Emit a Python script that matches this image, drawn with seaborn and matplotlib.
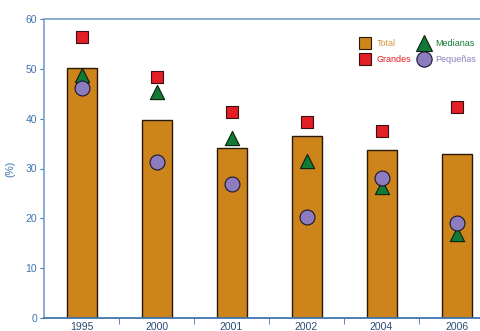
import numpy as np
import pandas as pd
import matplotlib
matplotlib.use('Agg')
import matplotlib.pyplot as plt
from matplotlib.lines import Line2D
import seaborn as sns

# data
years = ['1995', '2000', '2001', '2002', '2004', '2006']
total = [50.2, 39.8, 34.1, 36.5, 33.7, 32.9]
grandes = [56.4, 48.4, 41.4, 39.4, 37.6, 42.4]
medianas = [48.8, 45.3, 36.2, 31.5, 26.3, 16.8]
pequenas = [46.2, 31.3, 26.9, 20.3, 28.1, 19.1]

orange = '#CD841A'
red = '#E31E24'
green = '#137A35'
purple = '#8D7DBE'
blue = '#3F74AE'
light_blue = '#7FA6D0'

sns.set_style('white')
plt.rcParams['font.family'] = ['Liberation Sans', 'DejaVu Sans']

df = pd.DataFrame({'year': years, 'Total': total, 'Grandes': grandes,
                   'Medianas': medianas, 'Pequeñas': pequenas})

fig = plt.figure(figsize=(4.81, 3.31), dpi=100)
ax = fig.add_axes([44 / 481, 13 / 331, 450 / 481, 299 / 331])

sns.barplot(data=df, x='year', y='Total', color=orange, width=0.4,
            edgecolor='#2a1a05', linewidth=1.0, saturation=1, ax=ax)

xs = np.arange(len(years))
ax.scatter(xs, df['Grandes'], marker='s', s=85, color=red,
           edgecolor='#3a1010', linewidth=0.8, zorder=3)
ax.scatter(xs, df['Medianas'], marker='^', s=105, color=green,
           edgecolor='#0a200f', linewidth=0.8, zorder=4)
ax.scatter(xs, df['Pequeñas'], marker='o', s=115, color=purple,
           edgecolor='#1a1530', linewidth=0.8, zorder=5)

ax.set_xlim(-0.5, 5.5)
ax.set_ylim(0, 60)
ax.set_yticks(range(0, 61, 10))
ax.set_xlabel('')
ax.set_ylabel('(%)', color=blue, fontsize=7.5)
ax.yaxis.set_label_coords(-29 / 450, 0.5)

ax.set_xticks(xs)
ax.set_xticklabels(years)
ax.set_xticks(np.arange(0.5, 5.5, 1), minor=True)
ax.tick_params(axis='x', which='major', length=0, pad=3, labelsize=7.5,
               labelcolor='#2D4B73')
ax.tick_params(axis='x', which='minor', length=4, direction='out',
               color=blue, bottom=True)
ax.tick_params(axis='y', length=3, direction='out', color=blue, left=True,
               labelsize=7.5, labelcolor=blue, pad=2)

for side in ['left', 'top']:
    ax.spines[side].set_color(light_blue)
    ax.spines[side].set_linewidth(1.3)
ax.spines['bottom'].set_color(blue)
ax.spines['bottom'].set_linewidth(1.3)
ax.spines['right'].set_visible(False)

handles = [
    Line2D([], [], marker='s', linestyle='', markersize=9, markerfacecolor=orange,
           markeredgecolor='#2a1a05', markeredgewidth=0.8),
    Line2D([], [], marker='s', linestyle='', markersize=9, markerfacecolor=red,
           markeredgecolor='#3a1010', markeredgewidth=0.8),
    Line2D([], [], marker='^', linestyle='', markersize=11, markerfacecolor=green,
           markeredgecolor='#0a200f', markeredgewidth=0.8),
    Line2D([], [], marker='o', linestyle='', markersize=11, markerfacecolor=purple,
           markeredgecolor='#1a1530', markeredgewidth=0.8),
]
labels = ['Total', 'Grandes', 'Medianas', 'Pequeñas']
leg = fig.legend(handles, labels, ncol=2, loc='upper left',
                 bbox_to_anchor=(352 / 481, 1 - 31 / 331), frameon=False,
                 fontsize=6.5, handlelength=1.1, handletextpad=0.7,
                 columnspacing=0.9, labelspacing=0.75,
                 labelcolor=['#D9953A', red, green, purple])

fig.savefig('out.png', dpi=100)
